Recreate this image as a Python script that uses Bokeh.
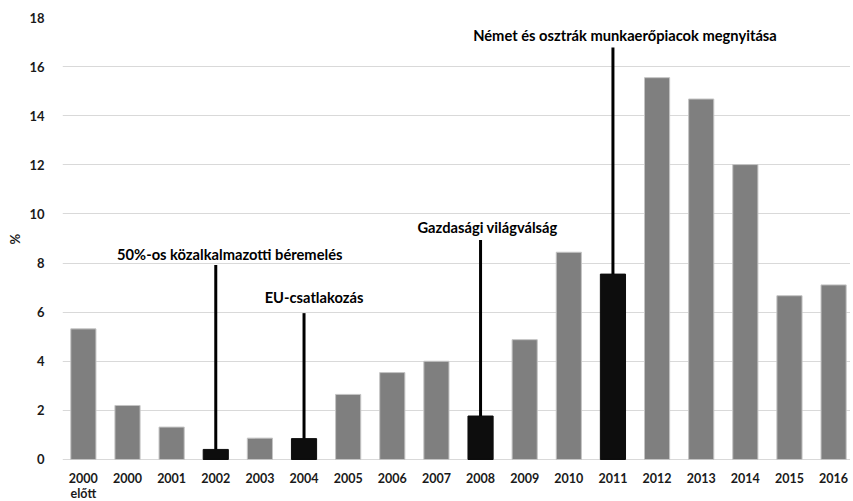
import numpy as np
from bokeh.plotting import figure
from bokeh.models import ColumnDataSource, FixedTicker, Range1d, Title
from bokeh.core.properties import value
from bokeh.embed import file_html
from bokeh.resources import INLINE

# ---- data ----
categories = ["2000\nelőtt", "2000", "2001", "2002", "2003", "2004", "2005", "2006",
              "2007", "2008", "2009", "2010", "2011", "2012", "2013", "2014", "2015", "2016"]
values = [5.32, 2.20, 1.32, 0.41, 0.87, 0.85, 2.65, 3.54, 4.00, 1.77, 4.88, 8.44,
          7.55, 15.55, 14.68, 12.01, 6.67, 7.11]
y_ticks = [0, 2, 4, 6, 8, 10, 12, 14, 16, 18]
y_label = "%"

event_years = ["2002", "2004", "2008", "2011"]
event_labels = ["50%-os közalkalmazotti béremelés", "EU-csatlakozás",
                "Gazdasági világválság", "Német és osztrák munkaerőpiacok megnyitása"]
event_line_tops = [7.92, 5.96, 8.94, 16.78]

# ---- layout / style ----
event_label_y = [8.37, 6.61, 9.47, 17.27]
event_label_dx = [14, 10, 7, 12]
FONT = "Lato"
GREY = "#7f7f7f"
BLACK = "#0d0d0d"

x = np.arange(len(categories))
colors = [BLACK if c in event_years else GREY for c in categories]
edges = [BLACK if c in event_years else "#c4c4c4" for c in categories]
src = ColumnDataSource(dict(x=x, top=values, color=colors, edge=edges))

ev_idx = [categories.index(c) for c in event_years]
ev_src = ColumnDataSource(dict(
    x=[float(i) for i in ev_idx],
    y0=event_line_tops,
    y1=[values[i] for i in ev_idx],
    ly=event_label_y,
    dx=event_label_dx,
    text=event_labels,
))

p = figure(width=850, height=500, output_backend="svg", toolbar_location=None,
           x_range=Range1d(-0.473, 17.383), y_range=Range1d(-1.67, 18),
           min_border_left=57, min_border_right=0, min_border_top=17, min_border_bottom=0)
p.outline_line_color = None
p.background_fill_color = "white"

p.vbar(x="x", top="top", width=0.57, source=src, fill_color="color",
       line_color="edge", line_width=1)
p.segment(x0="x", y0="y0", x1="x", y1="y1", source=ev_src, line_color="black", line_width=3)
p.text(x="x", y="ly", text="text", source=ev_src, x_offset="dx",
       text_font=value(FONT), text_font_style="bold", text_font_size="14.7px",
       text_align="center", text_baseline="middle", text_color="black")

# axes
p.xaxis.fixed_location = 0
p.xaxis.ticker = FixedTicker(ticks=list(x))
p.xaxis.major_label_overrides = {int(i): c for i, c in zip(x, categories)}
p.xaxis.axis_line_color = None
p.xaxis.major_tick_line_color = None
p.xaxis.minor_tick_line_color = None
p.xaxis.major_label_standoff = 6
p.xaxis.major_label_text_font = FONT
p.xaxis.major_label_text_font_style = "bold"
p.xaxis.major_label_text_font_size = "12.5px"
p.xaxis.major_label_text_color = "#1a1a1a"
p.xaxis.major_label_text_line_height = 0.95

p.yaxis.ticker = FixedTicker(ticks=y_ticks)
p.yaxis.axis_line_color = None
p.yaxis.major_tick_line_color = None
p.yaxis.minor_tick_line_color = None
p.yaxis.major_label_standoff = 12
p.yaxis.major_label_text_font = FONT
p.yaxis.major_label_text_font_style = "bold"
p.yaxis.major_label_text_font_size = "13px"
p.yaxis.major_label_text_color = "#1a1a1a"

p.add_layout(Title(text=y_label, align="left", offset=256, standoff=8,
                   text_font=FONT, text_font_style="bold", text_font_size="13px",
                   text_color="#1a1a1a"), "left")

p.xgrid.grid_line_color = None
p.ygrid.grid_line_color = "#d9d9d9"
p.ygrid.grid_line_width = 1

open("out.html", "w").write(file_html(p, INLINE))
